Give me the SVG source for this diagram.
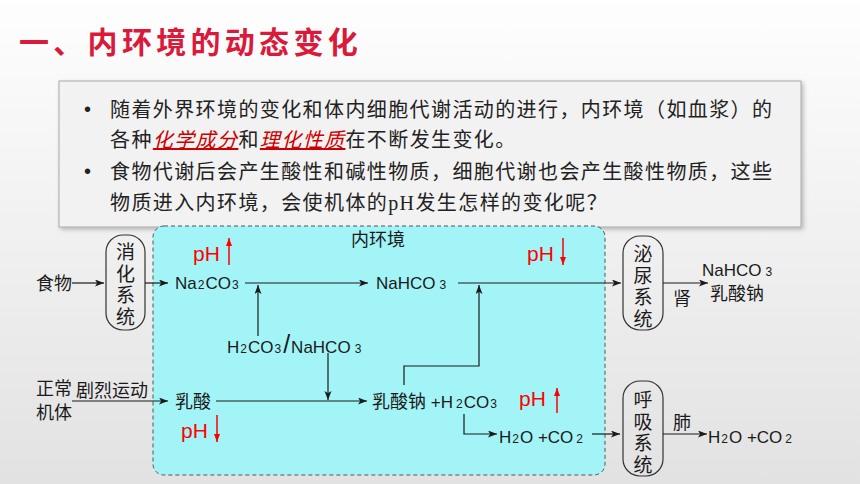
<svg xmlns="http://www.w3.org/2000/svg" width="860" height="484" viewBox="0 0 860 484">
<defs>
  <linearGradient id="bg" x1="0" y1="0" x2="0" y2="1">
    <stop offset="0" stop-color="#fefefe"/>
    <stop offset="1" stop-color="#e2e2e2"/>
  </linearGradient>
  <filter id="sh" x="-5%" y="-10%" width="110%" height="125%">
    <feDropShadow dx="2" dy="2" stdDeviation="2" flood-color="#000" flood-opacity="0.25"/>
  </filter>
  <marker id="ah" markerUnits="userSpaceOnUse" markerWidth="10" markerHeight="8" refX="9" refY="3.5" orient="auto">
    <path d="M0,0 L9,3.5 L0,7 L2.2,3.5 z" fill="#1a1a1a"/>
  </marker>
  <marker id="ahr" markerUnits="userSpaceOnUse" markerWidth="10" markerHeight="8" refX="8" refY="3" orient="auto">
    <path d="M0,0 L8,3 L0,6 z" fill="#ff0000"/>
  </marker>
  <style>
    .title{font-family:"Noto Sans CJK SC",sans-serif;font-weight:700;font-size:30px;fill:#d91a3a;letter-spacing:4.3px}
    .para{font-family:"Liberation Serif","Noto Sans CJK SC",serif;font-size:20px;fill:#222;letter-spacing:1.4px}
    .hl{fill:#cc0000;font-style:italic;text-decoration:underline}
    .bullet{font-family:"Liberation Sans",sans-serif;font-size:20px;fill:#222}
    .lbl{font-family:"Liberation Sans","Noto Sans CJK SC",sans-serif;font-size:17px;fill:#1a1a1a}
    .cn{font-family:"Noto Sans CJK SC",sans-serif;font-size:18px;fill:#1a1a1a}
    .vt{font-family:"Noto Sans CJK SC",sans-serif;font-size:19px;fill:#1a1a1a;text-anchor:middle;writing-mode:vertical-rl;letter-spacing:2.6px}
    .sub{font-size:12px}
    .ph{font-family:"Liberation Sans",sans-serif;font-size:21px;fill:#ff0000}
    .sys{fill:none;stroke:#333;stroke-width:1.2}
    .con{fill:none;stroke:#1a1a1a;stroke-width:1.2}
    .red{fill:none;stroke:#ff0000;stroke-width:1.5}
  </style>
</defs>

<rect x="0" y="0" width="860" height="484" fill="url(#bg)"/>

<g id="title">
  <text class="title" x="19" y="53">一、内环境的动态变化</text>
</g>

<g id="textbox">
  <rect x="59" y="81" width="742" height="146" fill="#f2f2f2" stroke="#a8a8a8" stroke-width="1" filter="url(#sh)"/>
  <text class="bullet" x="84" y="116">•</text>
  <text class="para" x="110" y="116.5">随着外界环境的变化和体内细胞代谢活动的进行，内环境（如血浆）的</text>
  <text class="para" x="110" y="147">各种<tspan class="hl">化学成分</tspan>和<tspan class="hl">理化性质</tspan>在不断发生变化。</text>
  <text class="bullet" x="84" y="178">•</text>
  <text class="para" x="110" y="178.5">食物代谢后会产生酸性和碱性物质，细胞代谢也会产生酸性物质，这些</text>
  <text class="para" x="110" y="209.5">物质进入内环境，会使机体的pH发生怎样的变化呢？</text>
</g>

<g id="inner-env">
  <rect x="153" y="226" width="452" height="249" rx="11" fill="#a3f4f7" stroke="#555" stroke-width="1" stroke-dasharray="4,3"/>
  <text class="cn" x="378" y="246" text-anchor="middle" font-size="17">内环境</text>
</g>

<g id="food"><text class="cn" x="36" y="290">食物</text></g>

<g id="digestive">
  <rect class="sys" x="106" y="235" width="39" height="95" rx="17"/>
  <text class="vt" x="125.5" y="285.5">消化系统</text>
</g>

<g id="na2co3"><text class="lbl" x="175" y="289">Na<tspan class="sub" dx="1">2</tspan><tspan dx="1">CO</tspan><tspan class="sub" dx="1">3</tspan></text></g>

<g id="ph-up-1">
  <text class="ph" x="193" y="261">pH</text>
  <line class="red" x1="229" y1="265" x2="229" y2="238" marker-end="url(#ahr)"/>
</g>

<g id="nahco3"><text class="lbl" x="376" y="289">NaHCO<tspan class="sub" dx="4">3</tspan></text></g>

<g id="ph-down-1">
  <text class="ph" x="527" y="261">pH</text>
  <line class="red" x1="563" y1="238" x2="563" y2="265" marker-end="url(#ahr)"/>
</g>

<g id="buffer"><text class="lbl" x="227" y="353">H<tspan class="sub" dx="1">2</tspan><tspan dx="1">CO</tspan><tspan class="sub" dx="1">3</tspan><tspan font-size="25" dx="2">/</tspan><tspan dx="1">NaHCO</tspan><tspan class="sub" dx="4">3</tspan></text></g>

<g id="urinary">
  <rect class="sys" x="623" y="236" width="40" height="94" rx="17"/>
  <text class="vt" x="643" y="287.5">泌尿系统</text>
</g>

<g id="kidney"><text class="cn" x="682" y="305" text-anchor="middle">肾</text></g>

<g id="out-urine">
  <text class="lbl" x="702" y="276">NaHCO<tspan class="sub" dx="4">3</tspan></text>
  <text class="cn" x="710" y="300">乳酸钠</text>
</g>

<g id="body">
  <text class="cn" x="36" y="394.5" font-size="17">正常<tspan x="36" dy="24.8">机体</tspan></text>
  <text class="cn" x="76" y="397">剧烈运动</text>
</g>

<g id="lactic"><text class="cn" x="175" y="408">乳酸</text></g>

<g id="ph-down-2">
  <text class="ph" x="181" y="438">pH</text>
  <line class="red" x1="217" y1="415" x2="217" y2="442" marker-end="url(#ahr)"/>
</g>

<g id="lactate"><text class="lbl" x="372" y="407.5"><tspan font-family="Noto Sans CJK SC, sans-serif" font-size="18">乳酸钠</tspan> +H<tspan class="sub" dx="3">2</tspan><tspan dx="1">CO</tspan><tspan class="sub" dx="1">3</tspan></text></g>

<g id="ph-up-2">
  <text class="ph" x="519" y="406">pH</text>
  <line class="red" x1="557" y1="413" x2="557" y2="388" marker-end="url(#ahr)"/>
</g>

<g id="h2o-co2"><text class="lbl" x="499" y="443">H<tspan class="sub" dx="1">2</tspan><tspan dx="1">O +CO</tspan><tspan class="sub" dx="3">2</tspan></text></g>

<g id="respiratory">
  <rect class="sys" x="623" y="381" width="40" height="95" rx="17"/>
  <text class="vt" x="643" y="433.5">呼吸系统</text>
</g>

<g id="lung"><text class="cn" x="682" y="429" text-anchor="middle">肺</text></g>

<g id="out-resp"><text class="lbl" x="708" y="443">H<tspan class="sub" dx="1">2</tspan><tspan dx="1">O +CO</tspan><tspan class="sub" dx="3">2</tspan></text></g>

<g id="connectors">
  <path class="con" d="M72,283 H104" marker-end="url(#ah)"/>
  <path class="con" d="M145,283 H168" marker-end="url(#ah)"/>
  <path class="con" d="M245,283 H368" marker-end="url(#ah)"/>
  <path class="con" d="M258,336 V285" marker-end="url(#ah)"/>
  <path class="con" d="M458,283 H621" marker-end="url(#ah)"/>
  <path class="con" d="M663,283 H708" marker-end="url(#ah)"/>
  <path class="con" d="M72,401 H168" marker-end="url(#ah)"/>
  <path class="con" d="M216,401 H367" marker-end="url(#ah)"/>
  <path class="con" d="M328,353 V400" marker-end="url(#ah)"/>
  <path class="con" d="M404,385 V366 H479 V285" marker-end="url(#ah)"/>
  <path class="con" d="M464,414 V434 H497" marker-end="url(#ah)"/>
  <path class="con" d="M592,434 H620" marker-end="url(#ah)"/>
  <path class="con" d="M663,434 H707" marker-end="url(#ah)"/>
</g>
</svg>
